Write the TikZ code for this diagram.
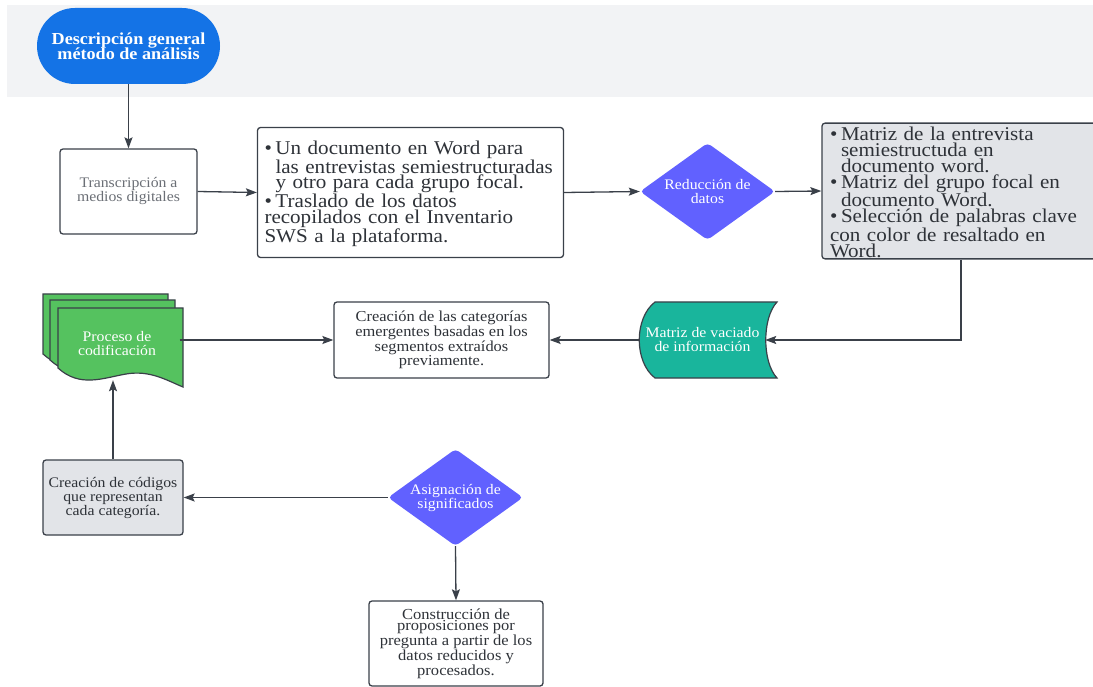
\documentclass[tikz,border=0pt]{standalone}
\usepackage{fontspec}
\setmainfont[FakeStretch=1.08]{Liberation Serif}
\usetikzlibrary{shapes.geometric,arrows.meta}
\definecolor{bandgray}{HTML}{F2F3F5}
\definecolor{linec}{HTML}{3A4049}
\definecolor{titleblue}{HTML}{1473E6}
\definecolor{dpurple}{HTML}{6161FF}
\definecolor{tealc}{HTML}{19B59C}
\definecolor{greenc}{HTML}{55C25F}
\definecolor{boxgray}{HTML}{E2E4E8}
\definecolor{txtgray}{HTML}{6B6F76}
\definecolor{txtdark}{HTML}{2E3238}
\newcommand\bitem[1]{\par\noindent\hangindent=11pt\hangafter=1\makebox[11pt][l]{\textbullet}#1}
\newcommand\docpath{(0,0) -- (125,0) -- (125,79) .. controls (108,72) and (92,62) .. (68,66) .. controls (45,70) and (22,80) .. (0,60) -- cycle}
\begin{document}
\begin{tikzpicture}[x=1pt,y=-1pt,
  box/.style={draw=linec, line width=1.3pt, rounded corners=3pt, fill=white, inner sep=4pt, align=center, text=txtdark},
  arr/.style={draw=linec, line width=1.3pt, -{Stealth[length=11pt,width=8pt,inset=2pt]}},
  small/.style={font=\fontsize{14.6}{14}\selectfont},
  big/.style={font=\fontsize{19.5}{15.8}\selectfont},
  dia/.style={shape=diamond, fill=dpurple, rounded corners=4pt, inner sep=0pt, minimum width=135pt, minimum height=97pt},
  diatext/.style={inner sep=0pt, align=center, text=white, small},
  ghost/.style={inner sep=0pt, align=center}]
\useasboundingbox (0,0) rectangle (1093,687);
\clip (0,0) rectangle (1093,687);
\fill[bandgray] (7,5) rectangle (1093,97);

% title
\node[fill=titleblue, rounded corners=38pt, minimum width=183pt, minimum height=76pt, inner sep=0pt, align=center, text=white, font=\fontsize{16.8}{15.5}\selectfont\bfseries] (title) at (128.5,46) {Descripción general\\método de análisis};

% first row
\node[box, small, text=txtgray, minimum width=137pt, minimum height=85pt] (trans) at (128.5,191.5) {Transcripción a\\medios digitales};
\node[box, big, align=left, text width=292pt, inner sep=7pt, minimum height=130pt] (docs) at (410.5,192.5) {%
\bitem{Un documento en Word para\newline las entrevistas semiestructuradas\newline y otro para cada grupo focal.}
\bitem{Traslado de los datos\newline recopilados con el Inventario\newline SWS a la plataforma.}};
\node[dia] (red) at (707.5,191.5) {};
\node[diatext] (redtext) at (red.center) {Reducción de\\datos};
\node[box, fill=boxgray, font=\fontsize{19.5}{16}\selectfont, align=left, text width=262pt, inner xsep=8pt, inner ysep=1pt, minimum height=132pt] (matw) at (961,191) {%
\bitem{Matriz de la entrevista\newline semiestructuda en\newline documento word.}
\bitem{Matriz del grupo focal en\newline documento Word.}
\bitem{Selección de palabras clave\newline con color de resaltado en\newline Word.}};

% second row
\node[ghost, minimum width=125pt, minimum height=76pt] (mv) at (702.5,340) {};
\fill[tealc, draw=linec, line width=1.2pt] (655,302) -- (777,302) .. controls (762,318) and (762,362) .. (777,378) -- (655,378) .. controls (634,362) and (634,318) .. (655,302) -- cycle;
\node[ghost, small, text=white] (mvtext) at (mv.center) {Matriz de vaciado\\de información};

\node[box, minimum width=215pt, minimum height=76pt, font=\fontsize{15.2}{12.7}\selectfont] (cat) at (441.5,340) {Creación de las categorías\\emergentes basadas en los\\segmentos extraídos\\previamente.};

\begin{scope}[shift={(43,294)}]
\filldraw[fill=greenc, draw=linec, line width=1.2pt] \docpath;
\end{scope}
\begin{scope}[shift={(50,300)}]
\filldraw[fill=greenc, draw=linec, line width=1.2pt] \docpath;
\end{scope}
\begin{scope}[shift={(58,308)}]
\filldraw[fill=greenc, draw=linec, line width=1.2pt] \docpath;
\end{scope}
\node[ghost, small, text=white, minimum width=125pt, minimum height=72pt] (proc) at (117,344) {Proceso de\\codificación};

% third row
\node[box, small, fill=boxgray, minimum width=140pt, minimum height=75pt] (codes) at (113,497.5) {Creación de códigos\\que representan\\cada categoría.};
\node[dia] (asig) at (455.5,497.5) {};
\node[diatext] (asigtext) at (asig.center) {Asignación de\\significados};
\node[box, minimum width=174pt, minimum height=85pt, font=\fontsize{15.3}{11.6}\selectfont] (cons) at (456,643.5) {Construcción de\\proposiciones por\\pregunta a partir de los\\datos reducidos y\\procesados.};

% connectors
\draw[arr] (title.south) -- (trans.north);
\draw[arr] (trans.east) -- (docs.west);
\draw[arr] (docs.east) -- (red.west);
\draw[arr] (red.east) -- (matw.west);
\draw[arr] (matw.south) |- (mv.east);
\draw[arr] (mv.west) -- (cat.east);
\draw[arr] (proc.east |- cat.west) -- (cat.west);
\draw[arr] (codes.north) -- (codes.north |- proc.south);
\draw[arr] (asig.west) -- (codes.east);
\draw[arr] (asig.south) -- (cons.north);
\end{tikzpicture}
\end{document}
